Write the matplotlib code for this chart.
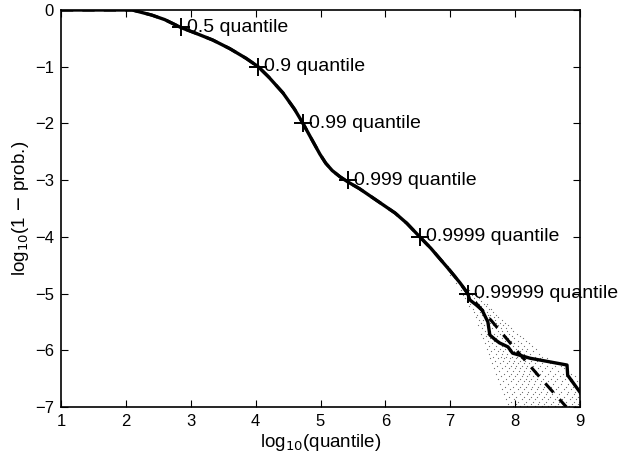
import matplotlib
matplotlib.use("Agg")
import matplotlib.pyplot as plt

plt.rcParams['font.family'] = ['Liberation Sans', 'DejaVu Sans']

# Empirical tail curve (solid)
emp_x = [1.0, 1.5, 2.1, 2.4, 2.6, 2.85, 3.1, 3.34, 3.6, 3.85, 4.04, 4.2, 4.42, 4.6, 4.73,
         4.85, 4.99, 5.08, 5.18, 5.3, 5.42, 5.6, 5.92, 6.15, 6.33, 6.53, 6.7, 6.85, 7.0,
         7.15, 7.27, 7.3, 7.4, 7.49, 7.58, 7.61, 7.7, 7.76, 7.89, 7.96, 8.23, 8.8, 8.81, 9.0]
emp_y = [0.0, 0.0, 0.0, -0.09, -0.17, -0.31, -0.42, -0.53, -0.68, -0.85, -1.0, -1.18,
         -1.46, -1.75, -2.0, -2.25, -2.54, -2.70, -2.83, -2.94, -3.03, -3.15, -3.40, -3.58,
         -3.76, -4.0, -4.2, -4.4, -4.6, -4.81, -5.0, -5.11, -5.2, -5.29, -5.5, -5.73, -5.82,
         -5.87, -5.94, -6.05, -6.14, -6.26, -6.44, -6.74]

# Model curve (dashed)
fit_x = [1.0, 1.5, 2.1, 2.4, 2.6, 2.85, 3.1, 3.34, 3.6, 3.85, 4.04, 4.2, 4.42, 4.6, 4.73,
         4.85, 4.99, 5.08, 5.18, 5.3, 5.42, 5.6, 5.92, 6.15, 6.33, 6.53, 6.7, 6.85, 7.0,
         7.15, 7.27, 7.65, 8.02, 8.40, 8.79]
fit_y = [0.0, 0.0, 0.0, -0.09, -0.17, -0.31, -0.42, -0.53, -0.68, -0.85, -1.0, -1.18,
         -1.46, -1.75, -2.0, -2.25, -2.54, -2.70, -2.83, -2.94, -3.03, -3.15, -3.40, -3.58,
         -3.76, -4.0, -4.2, -4.4, -4.6, -4.81, -5.0, -5.5, -6.0, -6.5, -7.0]

# Quantile markers
q_labels = ['0.5 quantile', '0.9 quantile', '0.99 quantile', '0.999 quantile',
            '0.9999 quantile', '0.99999 quantile']
q_x = [2.85, 4.04, 4.73, 5.42, 6.53, 7.27]
q_y = [-0.301, -1.0, -2.0, -3.0, -4.0, -5.0]

# Simulated tail points (cloud), rows of (y, x values)
cloud_rows = [
    (-4.52, [6.93, 6.97]),
    (-4.67, [7.00, 7.05, 7.08]),
    (-4.81, [7.09, 7.13, 7.17]),
    (-4.93, [7.16, 7.24, 7.29]),
    (-5.02, [7.19, 7.26, 7.33, 7.38]),
    (-5.07, [7.23, 7.30, 7.36, 7.44]),
    (-5.13, [7.26, 7.34, 7.39, 7.47]),
    (-5.18, [7.31, 7.37, 7.45, 7.52, 7.56]),
    (-5.22, [7.29, 7.41, 7.48, 7.55]),
    (-5.27, [7.35, 7.44, 7.51, 7.59, 7.63]),
    (-5.33, [7.37, 7.46, 7.52, 7.57, 7.66]),
    (-5.38, [7.42, 7.49, 7.58, 7.61, 7.71]),
    (-5.42, [7.39, 7.53, 7.60, 7.67, 7.74]),
    (-5.47, [7.44, 7.51, 7.57, 7.64, 7.69, 7.79]),
    (-5.52, [7.47, 7.56, 7.62, 7.71, 7.76, 7.84]),
    (-5.56, [7.43, 7.52, 7.66, 7.73, 7.81, 7.89]),
    (-5.61, [7.49, 7.59, 7.64, 7.70, 7.78, 7.86, 7.93]),
    (-5.66, [7.53, 7.62, 7.74, 7.80, 7.87, 7.97]),
    (-5.71, [7.48, 7.57, 7.68, 7.77, 7.83, 7.91, 8.03]),
    (-5.74, [7.55, 7.65, 7.72, 7.86, 7.95, 8.07]),
    (-5.79, [7.51, 7.61, 7.70, 7.79, 7.89, 7.99, 8.12]),
    (-5.83, [7.58, 7.67, 7.75, 7.84, 7.93, 8.04, 8.16]),
    (-5.88, [7.54, 7.64, 7.73, 7.81, 7.90, 7.98, 8.09, 8.21]),
    (-5.92, [7.60, 7.71, 7.79, 7.87, 7.96, 8.05, 8.14, 8.26]),
    (-5.97, [7.57, 7.68, 7.76, 7.85, 7.93, 8.01, 8.11, 8.19, 8.32]),
    (-6.01, [7.63, 7.74, 7.82, 7.91, 7.99, 8.08, 8.17, 8.28]),
    (-6.06, [7.59, 7.70, 7.80, 7.88, 7.97, 8.04, 8.13, 8.23, 8.37]),
    (-6.11, [7.66, 7.78, 7.86, 7.95, 8.03, 8.10, 8.20, 8.31, 8.42]),
    (-6.14, [7.62, 7.73, 7.83, 7.92, 8.01, 8.09, 8.16, 8.27, 8.38, 8.49]),
    (-6.19, [7.69, 7.81, 7.90, 7.98, 8.07, 8.15, 8.24, 8.34, 8.45, 8.56]),
    (-6.23, [7.65, 7.77, 7.87, 7.96, 8.04, 8.13, 8.21, 8.31, 8.42, 8.53, 8.63]),
    (-6.28, [7.72, 7.84, 7.93, 8.02, 8.11, 8.19, 8.28, 8.38, 8.49, 8.61, 8.70]),
    (-6.32, [7.68, 7.80, 7.91, 8.00, 8.08, 8.17, 8.25, 8.35, 8.46, 8.57, 8.76]),
    (-6.37, [7.75, 7.87, 7.97, 8.06, 8.14, 8.23, 8.32, 8.42, 8.53, 8.66, 8.81]),
    (-6.41, [7.71, 7.83, 7.94, 8.03, 8.12, 8.21, 8.30, 8.39, 8.50, 8.62, 8.74, 8.86]),
    (-6.46, [7.78, 7.90, 8.00, 8.10, 8.19, 8.27, 8.36, 8.46, 8.58, 8.69, 8.79, 8.92]),
    (-6.51, [7.74, 7.86, 7.97, 8.07, 8.16, 8.25, 8.34, 8.43, 8.55, 8.65, 8.77, 8.88]),
    (-6.55, [7.81, 7.93, 8.04, 8.13, 8.22, 8.31, 8.40, 8.51, 8.62, 8.73, 8.84, 8.95]),
    (-6.59, [7.77, 7.89, 8.01, 8.11, 8.20, 8.29, 8.38, 8.48, 8.59, 8.70, 8.82, 8.93]),
    (-6.64, [7.84, 7.96, 8.07, 8.17, 8.26, 8.35, 8.45, 8.55, 8.66, 8.78, 8.89, 8.98]),
    (-6.68, [7.80, 7.92, 8.04, 8.14, 8.24, 8.33, 8.43, 8.52, 8.63, 8.75, 8.86, 8.96]),
    (-6.73, [7.87, 7.99, 8.10, 8.20, 8.30, 8.40, 8.49, 8.60, 8.71, 8.82, 8.93]),
    (-6.77, [7.83, 7.95, 8.07, 8.18, 8.28, 8.37, 8.47, 8.57, 8.68, 8.80, 8.91, 8.99]),
    (-6.82, [7.90, 8.02, 8.13, 8.24, 8.34, 8.44, 8.54, 8.64, 8.75, 8.87, 8.97]),
    (-6.86, [7.86, 7.98, 8.10, 8.21, 8.31, 8.41, 8.51, 8.62, 8.73, 8.84, 8.94]),
    (-6.91, [7.93, 8.05, 8.16, 8.27, 8.37, 8.47, 8.58, 8.68, 8.79, 8.90, 8.98]),
    (-6.95, [7.89, 8.01, 8.13, 8.24, 8.35, 8.45, 8.55, 8.66, 8.77, 8.88, 8.97]),
    (-6.98, [7.96, 8.08, 8.19, 8.30, 8.41, 8.51, 8.61, 8.72, 8.83, 8.93]),
]

fig = plt.figure(figsize=(6.34, 4.61), dpi=100)
ax = fig.add_axes([61/634, 1-407/461, (580-61)/634, (407-10)/461])

cx, cy = [], []
for yv, xs in cloud_rows:
    for xv in xs:
        cx.append(xv)
        cy.append(yv)
ax.plot(cx, cy, linestyle='none', marker='s', ms=0.8, mew=0, color='0.45', zorder=1)

ax.plot(fit_x, fit_y, 'k--', lw=2.2, dashes=(4, 3), zorder=2)
ax.plot(emp_x, emp_y, 'k-', lw=2.4, zorder=3)
ax.plot(q_x, q_y, 'k+', ms=13, mew=1.4, zorder=4)
for xv, yv, lab in zip(q_x, q_y, q_labels):
    ax.text(xv + 0.09, yv, lab, fontsize=14, va='center', ha='left', zorder=5,
            clip_on=False)

ax.set_xlim(1, 9)
ax.set_ylim(-7, 0)
ax.set_xticks(range(1, 10))
ax.set_yticks(range(-7, 1))
ax.set_yticklabels(['\u22127', '\u22126', '\u22125', '\u22124', '\u22123', '\u22122', '\u22121', '0'])
ax.tick_params(direction='in', top=True, right=True, labelsize=12, length=5, width=0.8, pad=5)
for s in ax.spines.values():
    s.set_linewidth(1.2)
ax.set_xlabel(r'log$_{10}$(quantile)', fontsize=13.5, labelpad=2)
ax.set_ylabel(r'log$_{10}$(1 $-$ prob.)', fontsize=13.5, labelpad=3)

fig.savefig('out.png', dpi=100)
